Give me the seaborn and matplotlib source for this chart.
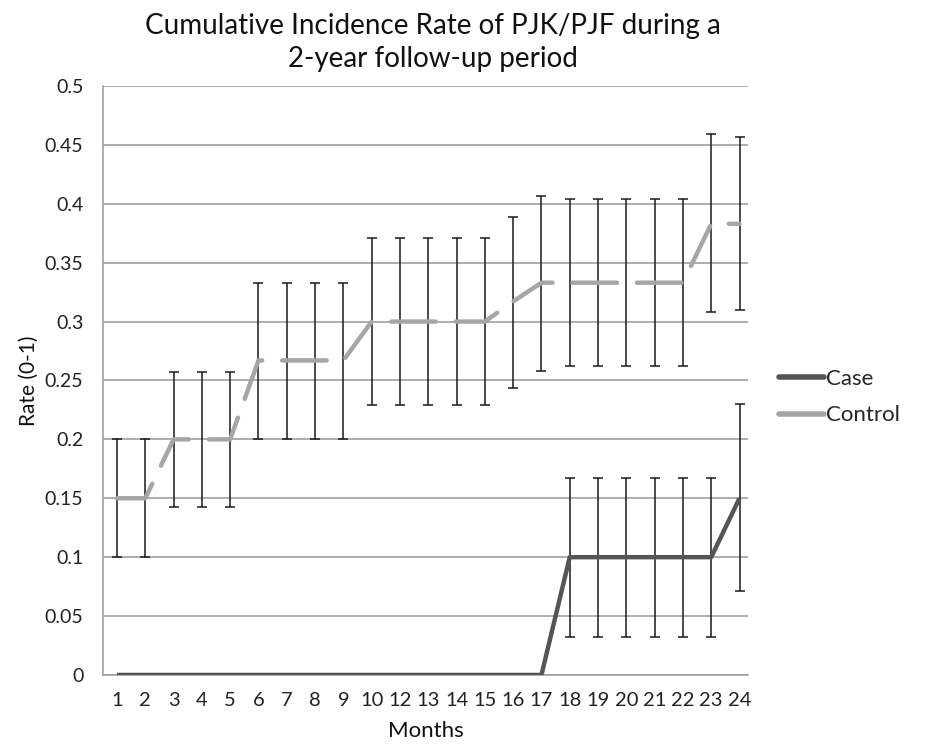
import matplotlib
matplotlib.use("Agg")
import matplotlib.pyplot as plt
import seaborn as sns
import numpy as np
import pandas as pd

months = ["1", "2", "3", "4", "5", "6", "7", "8", "9", "10", "12", "13", "14",
          "15", "16", "17", "18", "19", "20", "21", "22", "23", "24"]

control = [0.15, 0.15, 0.20, 0.20, 0.20, 0.267, 0.267, 0.267, 0.267, 0.30, 0.30, 0.30, 0.30,
           0.30, 0.317, 0.333, 0.333, 0.333, 0.333, 0.333, 0.333, 0.383, 0.383]
control_low = [0.10, 0.10, 0.143, 0.143, 0.143, 0.20, 0.20, 0.20, 0.20, 0.229, 0.229, 0.229, 0.229,
               0.229, 0.244, 0.258, 0.262, 0.262, 0.262, 0.262, 0.262, 0.308, 0.310]
control_high = [0.20, 0.20, 0.257, 0.257, 0.257, 0.333, 0.333, 0.333, 0.333, 0.371, 0.371, 0.371, 0.371,
                0.371, 0.389, 0.407, 0.404, 0.404, 0.404, 0.404, 0.404, 0.459, 0.457]

case = [0, 0, 0, 0, 0, 0, 0, 0, 0, 0, 0, 0, 0,
        0, 0, 0, 0.10, 0.10, 0.10, 0.10, 0.10, 0.10, 0.15]
case_low = [0, 0, 0, 0, 0, 0, 0, 0, 0, 0, 0, 0, 0,
            0, 0, 0, 0.032, 0.032, 0.032, 0.032, 0.032, 0.032, 0.071]
case_high = [0, 0, 0, 0, 0, 0, 0, 0, 0, 0, 0, 0, 0,
             0, 0, 0, 0.167, 0.167, 0.167, 0.167, 0.167, 0.167, 0.230]

yticks = [0, 0.05, 0.1, 0.15, 0.2, 0.25, 0.3, 0.35, 0.4, 0.45, 0.5]
ytick_labels = ["0", "0.05", "0.1", "0.15", "0.2", "0.25", "0.3", "0.35", "0.4", "0.45", "0.5"]

sns.set_theme(style="white")
plt.rcParams['font.family'] = ['Lato', 'DejaVu Sans']

pos = np.arange(len(months))
df = pd.DataFrame({
    "pos": np.concatenate([pos, pos]),
    "rate": case + control,
    "group": ["Case"] * len(months) + ["Control"] * len(months),
})

fig = plt.figure(figsize=(9.35, 7.45), dpi=100)
ax = fig.add_axes([0.110, 0.094, 0.690, 0.7906])

for y in yticks:
    ax.axhline(y, color="#a0a0a0", lw=1.2, zorder=0)

# error bars
c = np.array(control); cl = np.array(control_low); ch = np.array(control_high)
ax.errorbar(pos, c, yerr=[c - cl, ch - c], fmt="none", ecolor="#1a1a1a",
            elinewidth=1.1, capsize=3.5, capthick=1.1, zorder=2)
k = np.array(case); kl = np.array(case_low); kh = np.array(case_high)
mask = (kh - kl) > 0
ax.errorbar(pos[mask], k[mask], yerr=[(k - kl)[mask], (kh - k)[mask]], fmt="none",
            ecolor="#1a1a1a", elinewidth=1.1, capsize=3.5, capthick=1.1, zorder=2)

sns.lineplot(data=df, x="pos", y="rate", hue="group", style="group",
             palette={"Case": "#555555", "Control": "#a6a6a6"},
             dashes={"Case": "", "Control": (10, 4.5)},
             linewidth=3.2, ax=ax, zorder=3, legend=False)
for ln in ax.get_lines():
    ln.set_dash_capstyle("round")
    ln.set_solid_capstyle("butt")

ax.set_xlim(-0.5, 22.3)
ax.set_ylim(0, 0.5)
ax.set_xticks(pos)
ax.set_xticklabels(months, fontsize=14.5, color="#222222")
ax.set_yticks(yticks)
ax.set_yticklabels(ytick_labels, fontsize=14, color="#222222")
ax.tick_params(axis="x", length=0, pad=12)
ax.tick_params(axis="y", length=0, pad=14)
ax.set_xlabel("Months", fontsize=16, color="#111111", labelpad=9)
ax.set_ylabel("Rate (0-1)", fontsize=15, color="#111111", labelpad=4)

for s in ["top", "right"]:
    ax.spines[s].set_visible(False)
ax.spines["left"].set_color("#a0a0a0")
ax.spines["left"].set_linewidth(1.2)
ax.spines["bottom"].set_color("#a0a0a0")
ax.spines["bottom"].set_linewidth(1.2)

from matplotlib.lines import Line2D
handles = [Line2D([0], [0], color="#555555", lw=4),
           Line2D([0], [0], color="#a6a6a6", lw=4)]
fig.legend(handles, ["Case", "Control"], loc="upper left",
           bbox_to_anchor=(0.812, 0.532), frameon=False, fontsize=16,
           handlelength=2.0, handletextpad=0.1, labelspacing=0.75)

fig.suptitle("Cumulative Incidence Rate of PJK/PJF during a\n2-year follow-up period",
             x=0.463, y=0.983, fontsize=20, color="#111111", linespacing=1.35)

fig.savefig("out.png", dpi=100, facecolor="white")
